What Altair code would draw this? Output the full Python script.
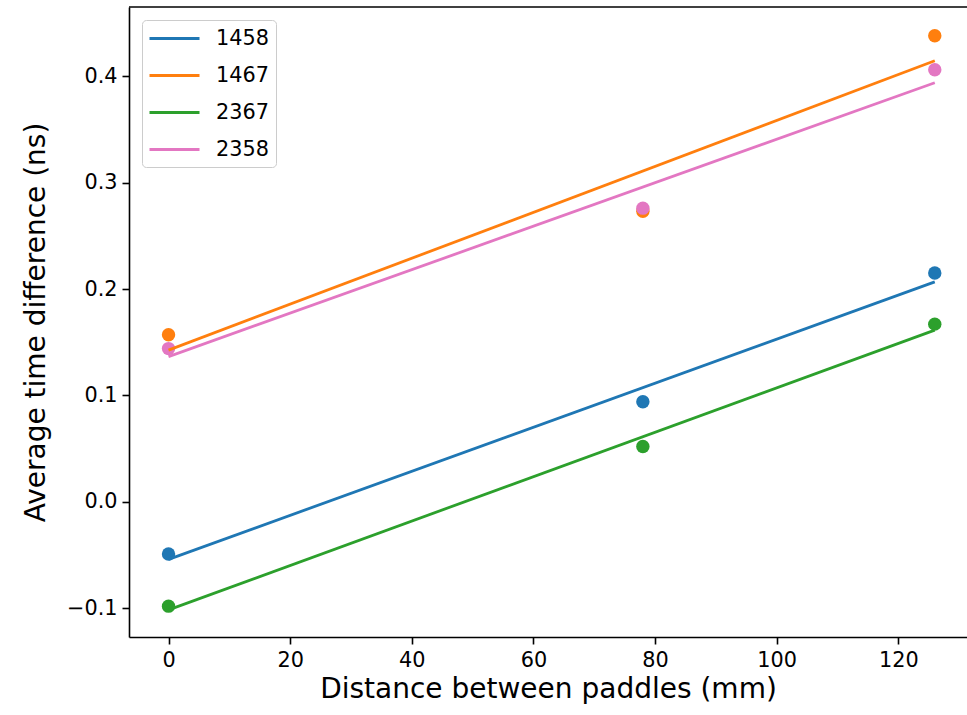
import altair as alt
import pandas as pd

series_names = ["1458", "1467", "2367", "2358"]
distances = [0, 78, 126]
s1458 = [-0.049, 0.094, 0.215]
s1467 = [0.157, 0.273, 0.438]
s2367 = [-0.098, 0.052, 0.167]
s2358 = [0.144, 0.276, 0.406]
colors = ["#1f77b4", "#ff7f0e", "#2ca02c", "#e377c2"]
x_ticks = [0, 20, 40, 60, 80, 100, 120]
y_ticks = [-0.1, 0.0, 0.1, 0.2, 0.3, 0.4]

rows = []
for name, vals in zip(series_names, [s1458, s1467, s2367, s2358]):
    for d, v in zip(distances, vals):
        rows.append({"series": name, "distance": d, "diff": v})
df = pd.DataFrame(rows)

W, H = 838, 630
FONT = "DejaVu Sans"

xscale = alt.Scale(domain=[-6.5, 131.3], nice=False, zero=False)
yscale = alt.Scale(domain=[-0.127, 0.465], nice=False, zero=False)

xenc = alt.X("distance:Q", scale=xscale,
             axis=alt.Axis(values=x_ticks, title="Distance between paddles (mm)", format="d"))
yenc = alt.Y("diff:Q", scale=yscale,
             axis=alt.Axis(values=y_ticks, title="Average time difference (ns)", format=".1f"))

points = alt.Chart(df).mark_point(size=180, opacity=1, filled=True, shape="circle", strokeWidth=0).encode(
    x=xenc, y=yenc,
    fill=alt.Fill("series:N", scale=alt.Scale(domain=series_names, range=colors), legend=None),
)

lines = alt.Chart(df).transform_regression(
    "distance", "diff", groupby=["series"]
).mark_line(strokeWidth=2.8).encode(
    x=alt.X("distance:Q", scale=xscale),
    y=alt.Y("diff:Q", scale=yscale),
    color=alt.Color(
        "series:N", scale=alt.Scale(domain=series_names, range=colors), sort=series_names,
        legend=alt.Legend(
            title=None, orient="none", legendX=13, legendY=13,
            symbolType="M-1.1,0L3.9,0", symbolSize=400, symbolStrokeWidth=2.8,
            labelFontSize=20.8, labelFont=FONT, labelColor="black",
            labelOffset=44, rowPadding=15, padding=7,
            strokeColor="#cccccc", fillColor="rgba(255,255,255,0.8)",
            cornerRadius=4,
        ),
    ),
)

top_border = alt.Chart(pd.DataFrame({"k": [0]})).mark_rule(
    color="black", strokeWidth=1.6
).encode(x=alt.value(0), x2=alt.value(W), y=alt.value(0))

chart = alt.layer(points, lines, top_border).resolve_scale(
    color="independent", fill="independent"
).properties(
    width=W, height=H,
    autosize=alt.AutoSizeParams(type="none"),
    padding={"left": 129, "top": 7, "right": 0, "bottom": 78},
).configure_view(stroke=None).configure_axis(
    grid=False,
    domainColor="black", domainWidth=1.6,
    tickColor="black", tickWidth=1.6, tickSize=7,
    labelFont=FONT, labelFontSize=20.8, labelColor="black", labelPadding=5,
    titleFont=FONT, titleFontSize=28, titleFontWeight="normal", titleColor="black",
).configure_axisX(titlePadding=6, labelPadding=6).configure_axisY(titlePadding=16)

chart.save("out.html", embed_options={"renderer": "svg", "actions": False})
